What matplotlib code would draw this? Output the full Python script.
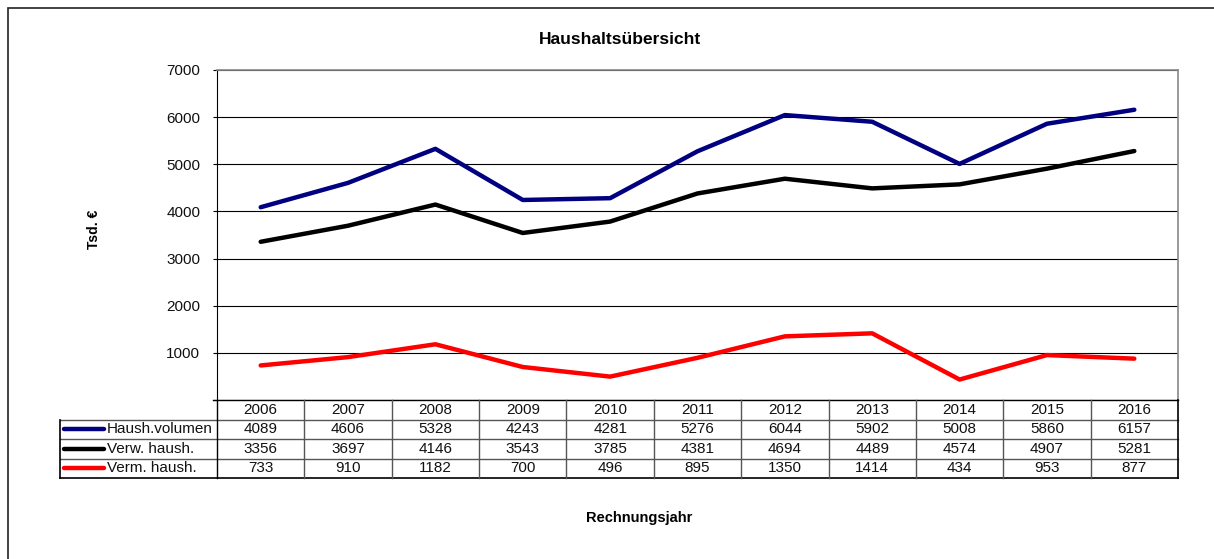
import matplotlib
matplotlib.use("Agg")
import matplotlib.pyplot as plt
from matplotlib.patches import Rectangle

plt.rcParams['font.family'] = ['Liberation Sans', 'DejaVu Sans']

years = ["2006", "2007", "2008", "2009", "2010", "2011", "2012", "2013", "2014", "2015", "2016"]
haush_volumen = [4089, 4606, 5328, 4243, 4281, 5276, 6044, 5902, 5008, 5860, 6157]
verw_haush = [3356, 3697, 4146, 3543, 3785, 4381, 4694, 4489, 4574, 4907, 5281]
verm_haush = [733, 910, 1182, 700, 496, 895, 1350, 1414, 434, 953, 877]
series_names = ["Haush.volumen", "Verw. haush.", "Verm. haush."]
series_values = [haush_volumen, verw_haush, verm_haush]
series_colors = ["#000080", "#000000", "#FF0000"]
title = "Haushaltsübersicht"
ylabel = "Tsd. €"
xlabel = "Rechnungsjahr"
ytick_labels = ["", "1000", "2000", "3000", "4000", "5000", "6000", "7000"]

W, H = 1214, 559
fig = plt.figure(figsize=(W / 100, H / 100), dpi=100)

def fx(px):
    return px / W

def fy(py):
    return 1 - py / H

# outer frame
fig.patches.append(Rectangle((fx(8), fy(600)), fx(1300) - fx(8), fy(8) - fy(600),
                             transform=fig.transFigure, fill=False, edgecolor="#222222",
                             linewidth=1.2, zorder=0))

ax = fig.add_axes([fx(217), fy(400), fx(1178) - fx(217), fy(70) - fy(400)])
n = len(years)
xs = list(range(n))
for vals, col in zip(series_values, series_colors):
    ax.plot(xs, vals, color=col, linewidth=3.2, solid_capstyle="round", zorder=3)
ax.set_xlim(-0.5, n - 0.5)
ax.set_ylim(0, 7000)
ax.set_yticks(range(0, 7001, 1000))
ax.set_yticklabels(ytick_labels, fontsize=11, color="#111111")
ax.set_xticks([])
ax.yaxis.grid(True, color="black", linewidth=0.8)
ax.set_axisbelow(True)
ax.tick_params(axis="y", length=3, width=0.8, color="black", pad=9)
for side in ["top", "right"]:
    ax.spines[side].set_color("#888888")
    ax.spines[side].set_linewidth(1.2)
ax.spines["left"].set_color("black")
ax.spines["bottom"].set_visible(False)

fig.text(fx(620), fy(40), title, ha="center", va="center", fontsize=12.5, fontweight="bold")
fig.text(fx(639), fy(518), xlabel, ha="center", va="center", fontsize=10.5, fontweight="bold")
fig.text(fx(94), fy(229), ylabel, ha="center", va="center", rotation=90,
         fontsize=10, fontweight="bold")

# data table
left_px = 60
col_w = (1178 - 217) / n
x_left = -0.5 - (217 - left_px) / col_w
tax = fig.add_axes([fx(left_px), fy(478), fx(1178) - fx(left_px), fy(400) - fy(478)])
tax.set_xlim(x_left, n - 0.5)
tax.set_ylim(4, 0)
tax.axis("off")

tax.plot([-0.5 - 4 / col_w, n - 0.5], [0, 0], color="black", lw=1.0, clip_on=False)
for r in [1, 2, 3]:
    tax.plot([x_left, n - 0.5], [r, r], color="#555555", lw=1.0, clip_on=False)
tax.plot([x_left, n - 0.5], [4, 4], color="black", lw=1.2, clip_on=False)
tax.plot([x_left, x_left], [1, 4], color="black", lw=1.2, clip_on=False)
tax.plot([-0.5, -0.5], [0, 4], color="black", lw=1.0, clip_on=False)
for i in range(1, n):
    tax.plot([i - 0.5, i - 0.5], [0, 4], color="#555555", lw=1.0, clip_on=False)
tax.plot([n - 0.5, n - 0.5], [0, 4], color="black", lw=1.2, clip_on=False)

for i, yr in enumerate(years):
    tax.text(i, 0.5, yr, ha="center", va="center", fontsize=11, color="#111111")
for r, (name, vals, col) in enumerate(zip(series_names, series_values, series_colors)):
    y = r + 1.5
    tax.plot([x_left + 4 / col_w, x_left + 44 / col_w], [y, y], color=col, lw=3.2,
             solid_capstyle="round", clip_on=False)
    tax.text(x_left + 47 / col_w, y, name, ha="left", va="center", fontsize=11, color="#111111")
    for i, v in enumerate(vals):
        tax.text(i, y, str(v), ha="center", va="center", fontsize=11, color="#111111")

fig.savefig("out.png", dpi=100)
